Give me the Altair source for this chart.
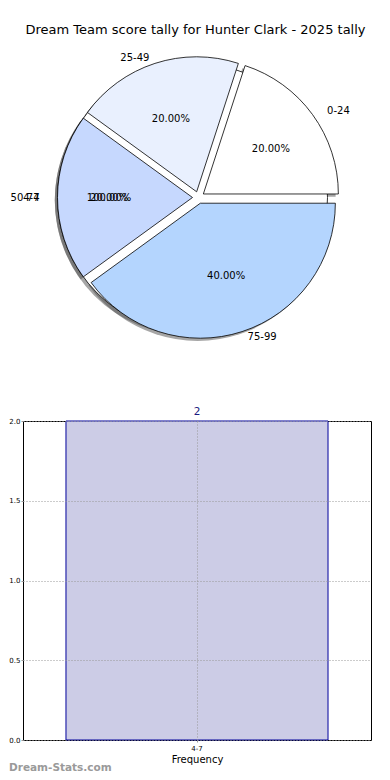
import altair as alt
import pandas as pd

# ---- data ----
title_text = "Dream Team score tally for Hunter Clark - 2025 tally"
pie_cats = ["0-24", "25-49", "50-74", "75-99"]
pie_counts = [1, 1, 1, 2]
pie_colors = ["#ffffff", "#e9f0fe", "#c6d8fe", "#b4d5fe"]

overlay_cats = ["4-7"]
overlay_counts = [2]
overlay_colors = ["#ffffff"]

bar_bins = ["4-7"]
bar_freq = [2]
y_ticks = [0.0, 0.5, 1.0, 1.5, 2.0]
watermark = "Dream-Stats.com"

FONT = "DejaVu Sans"

# ---- layout constants (pixels, relative to the plot origin) ----
PW, PH = 348, 393
BW, BH = 348, 319
CX, CY = 175.5, 189.5
TX = 172.5
R = 135
RX, RY = 139, 128
EXP = 6
SH = 2.7
PFS = 10


def pie_base(df):
    return (
        alt.Chart(df)
        .transform_joinaggregate(total="sum(count)")
        .transform_window(cum="sum(count)", sort=[alt.SortField("cat")], frame=[None, 0])
        .transform_calculate(
            a0="2*PI*(datum.cum - datum.count)/datum.total",
            a1="2*PI*datum.cum/datum.total",
        )
        .transform_calculate(
            mid="(datum.a0 + datum.a1)/2",
            th0="2.5*PI - datum.a1",
            th1="2.5*PI - datum.a0",
            pct="format(100*datum.count/datum.total, '.2f') + '%'",
        )
        .transform_calculate(
            cx=f"{CX} + {EXP}*cos(datum.mid)",
            cy=f"{CY} - {EXP}*sin(datum.mid)",
        )
        .transform_calculate(
            sx=f"datum.cx - {SH}",
            sy=f"datum.cy + {SH}",
            lx=f"datum.cx + 1.1*{RX}*cos(datum.mid)",
            ly=f"datum.cy - 1.1*{RY}*sin(datum.mid)",
            px=f"datum.cx + 0.6*{RX}*cos(datum.mid)",
            py=f"datum.cy - 0.6*{RY}*sin(datum.mid)",
            side="cos(datum.mid) > 0.0001 ? 'L' : 'R'",
        )
    )


def arcs(df, shadow=False):
    b = pie_base(df)
    if shadow:
        return b.mark_arc(radius=R, fill="#4d4d4d", opacity=0.5).encode(
            theta=alt.Theta("th0:Q", scale=None),
            theta2="th1:Q",
            x=alt.X("sx:Q", scale=None, axis=None),
            y=alt.Y("sy:Q", scale=None, axis=None),
        )
    return b.mark_arc(radius=R, stroke="black", strokeWidth=0.8).encode(
        theta=alt.Theta("th0:Q", scale=None),
        theta2="th1:Q",
        x=alt.X("cx:Q", scale=None, axis=None),
        y=alt.Y("cy:Q", scale=None, axis=None),
        fill=alt.Fill("color:N", scale=None, legend=None),
    )


def labels(df):
    b = pie_base(df)
    left = b.transform_filter("datum.side == 'L'").mark_text(
        align="left", baseline="middle", font=FONT, fontSize=PFS, color="black"
    ).encode(x=alt.X("lx:Q", scale=None, axis=None), y=alt.Y("ly:Q", scale=None, axis=None), text="cat:N")
    right = b.transform_filter("datum.side == 'R'").mark_text(
        align="right", baseline="middle", font=FONT, fontSize=PFS, color="black"
    ).encode(x=alt.X("lx:Q", scale=None, axis=None), y=alt.Y("ly:Q", scale=None, axis=None), text="cat:N")
    pct = b.mark_text(align="center", baseline="middle", font=FONT, fontSize=PFS, color="black").encode(
        x=alt.X("px:Q", scale=None, axis=None), y=alt.Y("py:Q", scale=None, axis=None), text="pct:N"
    )
    return [left, right, pct]


pie_df = pd.DataFrame({"cat": pie_cats, "count": pie_counts, "color": pie_colors})
ov_df = pd.DataFrame({"cat": overlay_cats, "count": overlay_counts, "color": overlay_colors})

title_df = pd.DataFrame({"t": [title_text]})
title_layer = alt.Chart(title_df).mark_text(
    font=FONT, fontSize=13, color="black", align="center", baseline="middle"
).encode(x=alt.value(TX), y=alt.value(22), text="t:N")

pie = alt.layer(
    arcs(pie_df, shadow=True),
    arcs(ov_df, shadow=True),
    arcs(ov_df),
    arcs(pie_df),
    *labels(pie_df),
    *labels(ov_df),
    title_layer,
).properties(width=PW, height=PH)

# ---- histogram ----
bar_df = pd.DataFrame({"bin": bar_bins, "freq": bar_freq})
xenc = alt.X(
    "bin:N",
    scale=alt.Scale(paddingInner=0, paddingOuter=0.164),
    axis=alt.Axis(
        title="Frequency", labelAngle=0, labelFontSize=7, labelFont=FONT, titleFont=FONT,
        titleFontSize=10, titleFontWeight="normal", titleColor="black", labelColor="black",
        tickSize=2, labelPadding=2, titlePadding=3, domain=False, grid=True, bandPosition=0.5,
        gridColor="#999999", gridDash=[1, 2], gridWidth=1, tickColor="#999999",
        zindex=1, minExtent=0,
    ),
)
yenc = alt.Y(
    "freq:Q",
    scale=alt.Scale(domain=[0, 2], nice=False),
    axis=alt.Axis(
        title=None, values=y_ticks, format=".1f", labelFontSize=7, labelFont=FONT,
        labelColor="black", tickSize=2, labelPadding=1, domain=False, grid=True,
        gridColor="#999999", gridDash=[1, 2], gridWidth=1, tickColor="#999999",
        zindex=1, minExtent=0,
    ),
)
bars = alt.Chart(bar_df).mark_bar(fill="#cccce6", stroke="#00009c", strokeWidth=1).encode(x=xenc, y=yenc)
bar_text = alt.Chart(bar_df).mark_text(
    dy=-9, font=FONT, fontSize=10.5, color="#1a1a80", baseline="middle"
).encode(x="bin:N", y="freq:Q", text="freq:Q")
wm = alt.Chart(pd.DataFrame({"t": [watermark]})).mark_text(
    font=FONT, fontSize=10.5, fontWeight="bold", color="#9a9a9a", align="left", baseline="middle"
).encode(x=alt.value(-14), y=alt.value(BH + 28), text="t:N")

hist = alt.layer(bars, bar_text, wm).properties(
    width=BW, height=BH, view=alt.ViewBackground(stroke="black", strokeWidth=1)
)

chart = alt.vconcat(pie, hist, spacing=20, bounds="flush").properties(padding=0).configure_view(
    strokeWidth=0
)

chart.save("out.html", embed_options={"renderer": "svg", "actions": False})
